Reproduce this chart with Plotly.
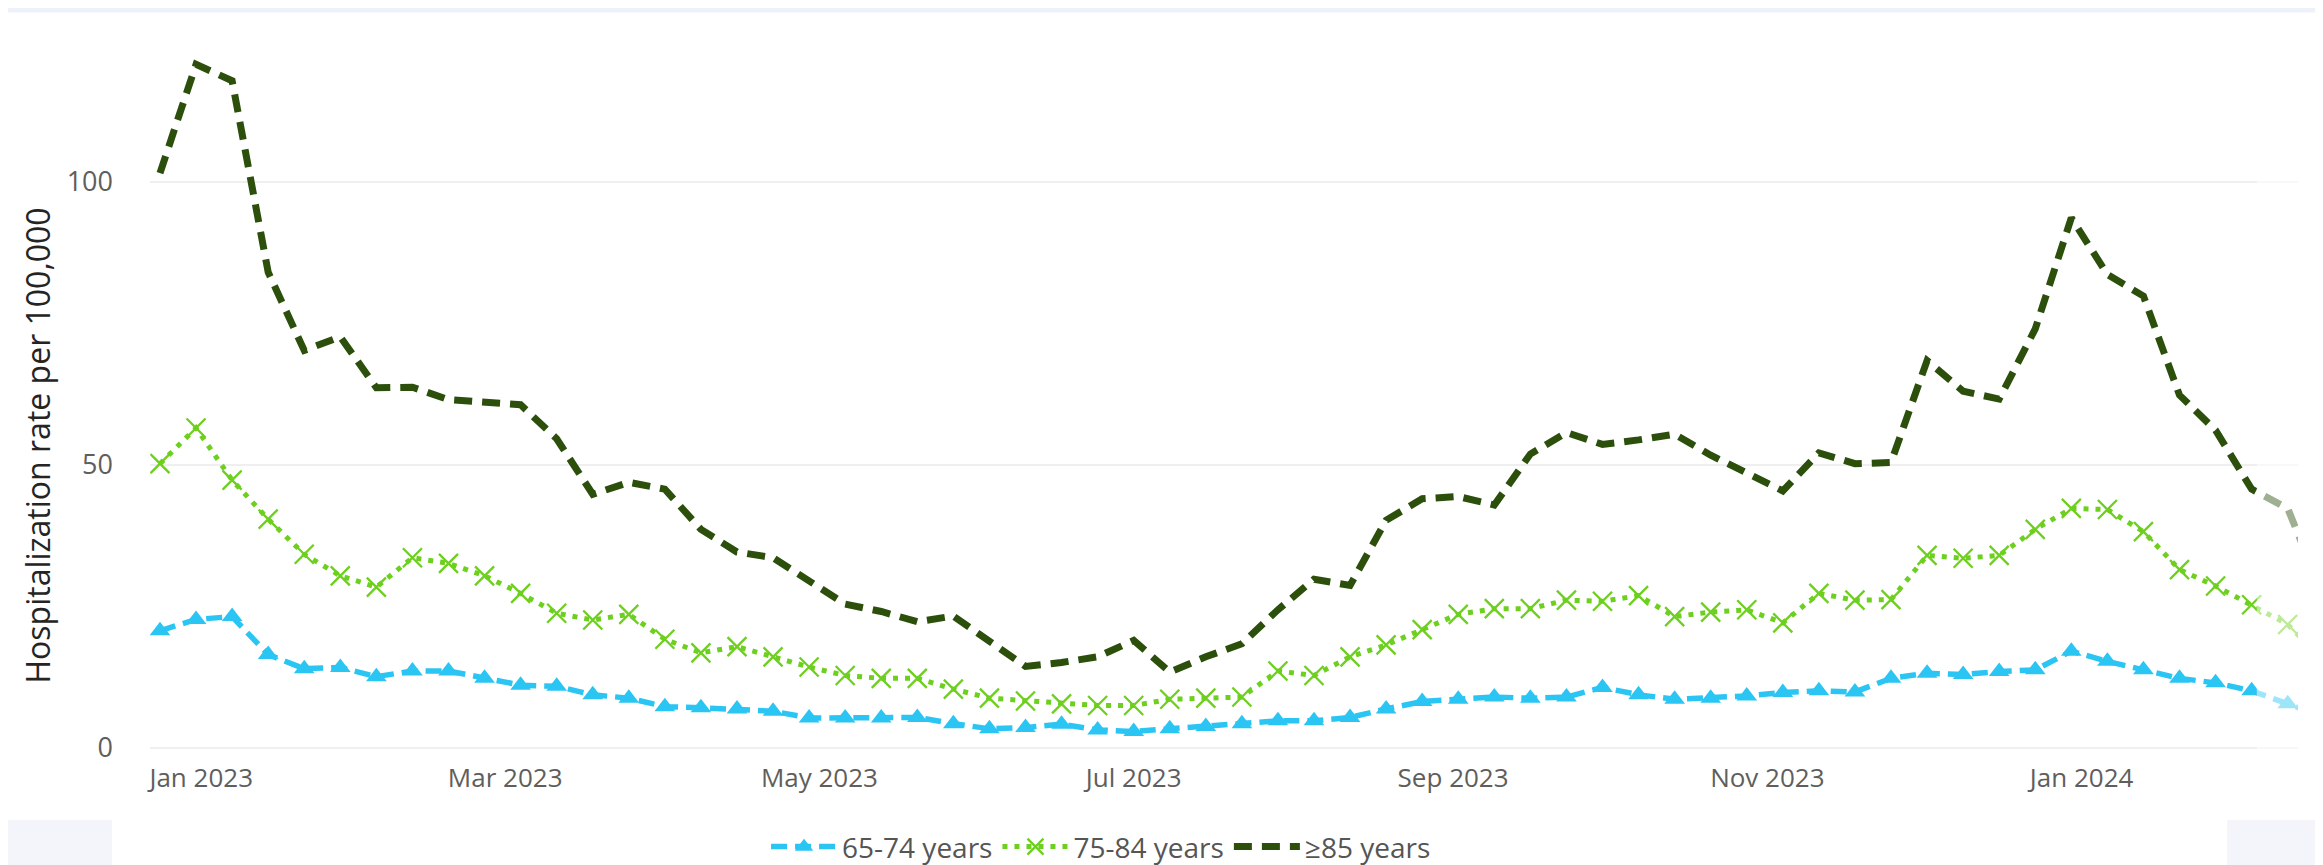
import pandas as pd
import plotly.graph_objects as go

# ---------------- data (weekly, week ending Saturday) ----------------
week_start = "2022-12-24"

age_65_74 = [20.7, 22.7, 23.2, 16.5, 14.0, 14.2, 12.6, 13.6, 13.6, 12.3,
             11.1, 10.9, 9.4, 8.8, 7.3, 7.1, 6.9, 6.5, 5.3, 5.3,
             5.3, 5.4, 4.3, 3.4, 3.6, 4.2, 3.2, 2.9, 3.4, 3.8,
             4.3, 4.8, 4.8, 5.4, 6.9, 8.2, 8.6, 9.0, 8.8, 9.0,
             10.7, 9.4, 8.6, 8.8, 9.2, 9.8, 10.1, 9.9, 12.3, 13.2,
             13.0, 13.5, 13.8, 17.1, 15.3, 13.8, 12.3, 11.5, 10.1, 7.8,
             5.5]

age_75_84 = [50.2, 56.5, 47.3, 40.4, 34.2, 30.4, 28.4, 33.6, 32.6, 30.4,
             27.3, 23.8, 22.6, 23.6, 19.2, 16.8, 17.9, 16.1, 14.3, 12.8,
             12.3, 12.3, 10.4, 8.8, 8.3, 7.8, 7.5, 7.5, 8.6, 8.8,
             9.0, 13.6, 12.8, 16.1, 18.2, 20.9, 23.6, 24.6, 24.6, 26.1,
             25.9, 26.9, 23.2, 24.0, 24.4, 22.1, 27.3, 26.1, 26.2, 34.0,
             33.5, 34.0, 38.6, 42.3, 42.1, 38.2, 31.5, 28.6, 25.3, 21.8,
             15.4]

age_85_plus = [101.5, 120.7, 117.8, 84.0, 70.2, 72.6, 63.6, 63.7, 61.5, 60.9,
               60.6, 54.6, 44.8, 46.9, 45.7, 38.6, 34.6, 33.6, 29.4, 25.4,
               24.1, 22.3, 23.3, 18.7, 14.4, 15.1, 16.1, 19.0, 13.4, 16.1,
               18.4, 24.4, 29.8, 28.7, 40.2, 44.0, 44.4, 42.9, 51.9, 55.7,
               53.6, 54.4, 55.4, 51.7, 48.6, 45.4, 52.1, 50.2, 50.4, 68.4,
               63.0, 61.6, 74.0, 93.6, 83.6, 79.8, 62.3, 56.1, 45.7, 42.3,
               26.6]

series_names = ["65-74 years", "75-84 years", "≥85 years"]
y_tick_values = [0, 50, 100]
y_title = "Hospitalization rate per 100,000"

dates = pd.date_range(week_start, periods=len(age_65_74), freq="7D")

# ---------------- styles ----------------
BLUE = "#2BC5F4"
LGREEN = "#6DCF1E"
DGREEN = "#2C4F0C"

fig = go.Figure()

fig.add_trace(go.Scatter(
    x=dates, y=age_65_74, name=series_names[0], mode="lines+markers",
    line=dict(color=BLUE, width=5.5, dash="16px,8px"),
    marker=dict(symbol="triangle-up", size=18, color=BLUE),
))
fig.add_trace(go.Scatter(
    x=dates, y=age_75_84, name=series_names[1], mode="lines+markers",
    line=dict(color=LGREEN, width=5, dash="5px,7px"),
    marker=dict(symbol="x-thin-open", size=19, color=LGREEN,
                line=dict(color=LGREEN, width=2.3)),
))
fig.add_trace(go.Scatter(
    x=dates, y=age_85_plus, name=series_names[2], mode="lines",
    line=dict(color=DGREEN, width=7, dash="18px,10px"),
))

# plot-area geometry (pixels of the 2323x865 page)
L, R, T, B = 142, 33, 32, 108

shapes = [
    # light fade over the most recent (preliminary) weeks
    dict(type="rect", xref="x", yref="paper", x0="2024-02-04", x1="2024-02-12",
         y0=0, y1=1, fillcolor="rgba(255,255,255,0.55)", line=dict(width=0),
         layer="above"),
    # thin light band at the top of the page
    dict(type="rect", xref="paper", yref="paper", x0=-0.07, x1=1.02,
         y0=1.038, y1=1.05, fillcolor="#EDF1F9", line=dict(width=0), layer="below"),
    # light boxes at the bottom corners
    dict(type="rect", xref="paper", yref="paper", x0=-0.0661, x1=-0.0177,
         y0=-0.149, y1=-0.0759, fillcolor="#F3F5FB", line=dict(width=0), layer="below"),
    dict(type="rect", xref="paper", yref="paper", x0=0.967, x1=1.0154,
         y0=-0.149, y1=-0.0759, fillcolor="#F3F5FB", line=dict(width=0), layer="below"),
]

fig.update_layout(
    width=2323, height=865,
    margin=dict(l=L, r=R, t=T, b=B, autoexpand=False),
    paper_bgcolor="white", plot_bgcolor="white",
    font=dict(family="Open Sans, sans-serif", color="#605E5C"),
    showlegend=True,
    legend=dict(
        orientation="h", x=0.2868, xanchor="left", y=-0.113, yanchor="middle",
        font=dict(size=28, color="#555555", family="Open Sans, sans-serif"),
        itemwidth=66, bgcolor="rgba(0,0,0,0)", tracegroupgap=0,
    ),
    shapes=shapes,
    annotations=[dict(
        text=y_title, xref="paper", yref="paper",
        x=-0.0525, y=0.441, xanchor="center", yanchor="middle",
        textangle=-90, showarrow=False,
        font=dict(size=32, color="#252423", family="Open Sans, sans-serif"),
    )],
    xaxis=dict(
        type="date",
        range=["2022-12-22 01:30", "2024-02-12"],
        tick0="2023-01-01", dtick="M2", tickformat="%b %Y",
        showgrid=False, zeroline=False, showline=False, ticks="",
        ticklabelstandoff=-5,
        tickfont=dict(size=26, color="#605E5C"),
    ),
    yaxis=dict(
        range=[-3, 125],
        tickvals=y_tick_values,
        showgrid=True, gridcolor="#EFEFEF", gridwidth=1.5,
        zeroline=False, showline=False, ticks="",
        ticklabelstandoff=36,
        tickfont=dict(size=27, color="#605E5C"),
    ),
)

fig.write_html("out.html")
